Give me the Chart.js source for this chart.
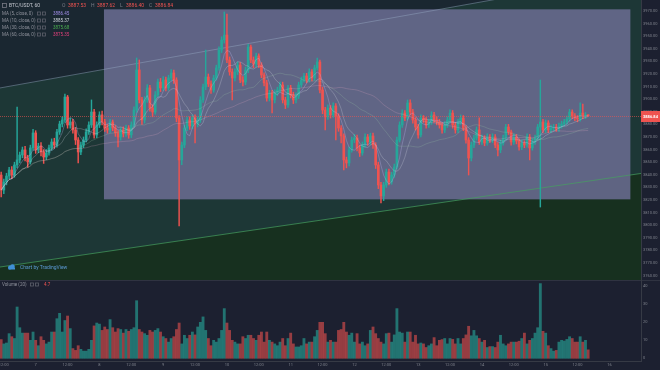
<!DOCTYPE html>
<html>
<head>
<meta charset="utf-8">
<script src="https://cdn.jsdelivr.net/npm/chart.js@4.4.1/dist/chart.umd.min.js"></script>
<style>
  html, body { margin: 0; padding: 0; background: #1c2030; width: 660px; height: 370px; overflow: hidden; }
  #main { position: absolute; left: 0; top: 0; }
  #vol { position: absolute; left: 0; top: 280px; }
</style>
</head>
<body>
<canvas id="main" width="660" height="280"></canvas>
<canvas id="vol" width="660" height="90"></canvas>
<script>
// BTC/USDT hourly candles. Hours are counted from day 7, 00:00.
const firstHour = -13;
const firstOpen = 3839.8;

const closes = [
  3827.9, 3834.3, 3839.0, 3843.8, 3839.8, 3847.8, 3851.8, 3855.7, 3859.7, 3853.3,
  3850.2, 3861.3, 3873.2, 3859.7, 3862.8, 3858.1, 3854.1, 3857.3, 3861.3, 3866.0,
  3863.6, 3874.0, 3880.3, 3883.5, 3901.7, 3879.5, 3881.9, 3875.6, 3867.6, 3858.1,
  3863.6, 3867.6, 3874.0, 3879.5, 3889.8, 3871.6, 3879.5, 3887.5, 3881.9, 3877.1,
  3875.6, 3881.9, 3877.1, 3873.2, 3870.0, 3875.6, 3872.4, 3877.1, 3871.6, 3879.5,
  3891.4, 3923.2, 3899.4, 3883.5, 3899.4, 3908.9, 3893.0, 3889.8, 3903.3, 3913.6,
  3908.9, 3915.2, 3908.9, 3916.8, 3920.8, 3915.2, 3885.1, 3851.8, 3863.6, 3877.1,
  3883.5, 3878.7, 3885.1, 3880.3, 3883.5, 3899.4, 3909.7, 3917.6, 3912.1, 3907.3,
  3916.8, 3924.8, 3939.0, 3947.0, 3950.9, 3931.1, 3921.6, 3916.8, 3921.6, 3927.1,
  3915.2, 3913.6, 3923.2, 3941.4, 3931.1, 3927.9, 3934.3, 3927.1, 3919.2, 3912.9,
  3900.9, 3904.9, 3899.4, 3904.9, 3907.3, 3911.3, 3899.4, 3895.4, 3908.9, 3903.3,
  3899.4, 3902.5, 3911.3, 3915.2, 3918.4, 3915.2, 3921.6, 3916.8, 3924.8, 3929.5,
  3907.3, 3891.4, 3885.9, 3893.0, 3887.5, 3894.6, 3886.7, 3877.1, 3870.8, 3851.8,
  3849.4, 3859.7, 3867.6, 3869.2, 3861.3, 3857.3, 3863.6, 3870.0, 3866.0, 3870.8,
  3863.6, 3847.8, 3831.9, 3823.2, 3831.9, 3842.2, 3834.3, 3839.8, 3846.2, 3867.6,
  3879.5, 3889.0, 3885.1, 3897.0, 3889.8, 3883.5, 3877.9, 3871.6, 3885.1, 3883.5,
  3879.5, 3881.9, 3887.5, 3883.5, 3881.9, 3879.5, 3875.6, 3879.5, 3883.5, 3889.0,
  3879.5, 3875.6, 3881.9, 3885.1, 3877.1, 3867.6, 3853.3, 3863.6, 3869.2, 3875.6,
  3866.0, 3869.2, 3865.2, 3870.0, 3867.6, 3870.0, 3863.6, 3859.7, 3865.2, 3869.2,
  3877.9, 3874.0, 3866.0, 3870.0, 3866.8, 3862.1, 3865.2, 3863.6, 3870.0, 3861.3,
  3866.0, 3869.2, 3877.9, 3881.9, 3875.6, 3881.1, 3875.6, 3877.1, 3877.9, 3876.3,
  3878.7, 3880.3, 3881.9, 3884.3, 3889.8, 3886.7, 3885.1, 3884.3, 3889.0, 3886.7,
  3887.53, 3886.84
];

const highs = [
  3842.2, 3836.5, 3841.2, 3846.0, 3846.5, 3850.0, 3893.8, 3858.0, 3862.0, 3862.5,
  3855.5, 3863.5, 3876.0, 3875.0, 3865.0, 3865.5, 3860.0, 3860.0, 3863.5, 3868.5,
  3869.0, 3876.0, 3882.5, 3886.0, 3904.1, 3903.0, 3885.0, 3884.0, 3877.5, 3869.5,
  3866.0, 3870.0, 3876.5, 3882.0, 3899.4, 3892.0, 3882.0, 3890.0, 3890.5, 3884.0,
  3880.0, 3884.0, 3883.5, 3879.0, 3875.0, 3877.5, 3878.0, 3879.5, 3879.0, 3882.0,
  3894.0, 3932.7, 3931.1, 3901.5, 3902.0, 3911.5, 3911.0, 3895.5, 3906.0, 3916.0,
  3916.5, 3918.0, 3917.5, 3919.0, 3923.5, 3923.0, 3917.0, 3887.0, 3866.0, 3879.5,
  3886.0, 3886.0, 3887.5, 3887.5, 3886.0, 3902.0, 3912.0, 3939.0, 3920.0, 3914.5,
  3919.0, 3927.0, 3941.5, 3949.5, 3969.2, 3967.6, 3933.5, 3924.0, 3924.0, 3929.5,
  3929.0, 3918.0, 3925.5, 3943.5, 3943.0, 3933.5, 3936.5, 3936.0, 3929.0, 3921.0,
  3915.0, 3907.0, 3907.0, 3907.5, 3909.5, 3913.5, 3913.5, 3901.5, 3911.0, 3911.0,
  3905.5, 3905.0, 3913.5, 3917.5, 3920.5, 3920.5, 3924.0, 3923.5, 3927.0, 3932.7,
  3931.1, 3909.5, 3893.5, 3895.5, 3895.0, 3897.0, 3896.5, 3888.5, 3879.0, 3872.5,
  3854.0, 3862.0, 3870.0, 3872.0, 3871.5, 3863.5, 3866.0, 3872.5, 3872.0, 3873.0,
  3873.0, 3865.5, 3850.0, 3834.0, 3834.0, 3844.5, 3844.5, 3842.0, 3848.5, 3870.0,
  3882.0, 3891.5, 3891.0, 3899.4, 3899.4, 3892.0, 3885.5, 3880.0, 3887.5, 3887.0,
  3885.5, 3884.0, 3890.0, 3889.5, 3886.0, 3884.0, 3881.5, 3882.0, 3886.0, 3891.5,
  3891.0, 3881.5, 3884.0, 3887.5, 3887.0, 3879.0, 3869.5, 3866.0, 3871.5, 3878.0,
  3885.1, 3871.5, 3871.0, 3872.5, 3872.0, 3872.5, 3872.0, 3865.5, 3867.5, 3871.5,
  3880.0, 3880.0, 3875.5, 3872.5, 3872.0, 3868.5, 3867.5, 3867.0, 3872.5, 3872.0,
  3868.5, 3871.5, 3880.0, 3915.2, 3884.0, 3883.5, 3883.0, 3879.5, 3880.0, 3880.0,
  3881.0, 3882.5, 3884.0, 3886.5, 3892.0, 3891.5, 3888.5, 3887.0, 3897.0, 3896.2,
  3889.5, 3887.62
];

const lows = [
  3822.4, 3825.0, 3832.0, 3836.8, 3837.0, 3838.0, 3845.5, 3849.5, 3853.5, 3851.0,
  3846.0, 3848.5, 3859.5, 3857.0, 3857.5, 3855.0, 3849.0, 3852.0, 3855.5, 3859.5,
  3861.0, 3862.0, 3872.0, 3878.0, 3881.5, 3877.0, 3877.0, 3873.0, 3864.0, 3849.4,
  3856.0, 3861.5, 3866.0, 3872.0, 3877.5, 3869.0, 3869.5, 3877.5, 3879.5, 3874.5,
  3873.0, 3873.5, 3875.0, 3870.5, 3862.1, 3867.5, 3870.0, 3870.5, 3869.0, 3869.5,
  3878.0, 3889.5, 3897.0, 3880.0, 3881.0, 3897.5, 3890.5, 3886.0, 3888.0, 3901.5,
  3906.0, 3907.0, 3906.5, 3907.0, 3914.5, 3912.5, 3882.0, 3799.4, 3848.0, 3861.5,
  3875.0, 3876.0, 3876.5, 3865.2, 3878.0, 3881.5, 3897.5, 3907.5, 3910.0, 3904.5,
  3905.5, 3915.0, 3923.0, 3937.0, 3944.5, 3929.0, 3919.0, 3899.4, 3914.5, 3919.5,
  3913.0, 3910.5, 3911.5, 3921.0, 3929.0, 3925.0, 3925.5, 3925.0, 3917.0, 3910.5,
  3898.5, 3898.5, 3889.0, 3897.0, 3903.0, 3905.5, 3897.0, 3892.5, 3893.5, 3901.0,
  3896.5, 3897.0, 3900.5, 3909.5, 3913.5, 3913.0, 3913.5, 3914.5, 3915.0, 3923.0,
  3905.0, 3888.5, 3875.6, 3884.0, 3885.0, 3885.5, 3867.6, 3874.5, 3865.2, 3843.8,
  3845.5, 3847.0, 3858.0, 3865.5, 3859.0, 3854.5, 3855.5, 3862.0, 3863.5, 3864.0,
  3861.0, 3845.0, 3829.0, 3817.6, 3819.5, 3830.0, 3832.0, 3832.5, 3838.0, 3844.5,
  3866.0, 3877.5, 3883.0, 3883.5, 3887.5, 3881.0, 3875.5, 3869.0, 3870.0, 3881.5,
  3877.0, 3877.5, 3880.0, 3881.5, 3879.5, 3877.0, 3873.0, 3873.5, 3877.5, 3881.5,
  3877.0, 3873.0, 3873.5, 3880.0, 3875.0, 3865.0, 3839.8, 3851.0, 3861.5, 3867.5,
  3864.0, 3864.0, 3863.0, 3863.5, 3865.5, 3865.5, 3861.5, 3855.0, 3857.5, 3863.5,
  3867.5, 3872.0, 3863.5, 3864.0, 3864.5, 3859.5, 3860.0, 3861.5, 3862.0, 3851.8,
  3859.5, 3864.0, 3867.5, 3814.4, 3873.5, 3873.5, 3873.5, 3873.5, 3875.0, 3874.5,
  3874.5, 3877.0, 3878.5, 3880.0, 3882.5, 3884.5, 3883.0, 3882.0, 3882.5, 3884.5,
  3884.5, 3886.40
];

const volumes = [
  10.4, 8, 8.5, 13.7, 12, 11, 28.5, 17, 14, 14,
  14, 10, 14.6, 10, 7, 12, 10, 8, 9, 14.6,
  14.6, 22, 25, 14.6, 21, 23.5, 16.5, 5.4, 4.4, 7,
  5, 4, 4, 5, 10, 18, 19.6, 19, 15.5, 17.4,
  16, 21.5, 17, 14.6, 16.5, 16, 14, 16, 15, 16,
  17, 32, 16, 14.6, 13.7, 12.8, 15.5, 14.6, 15.5, 16.5,
  14.6, 12, 11, 9, 11, 12, 16, 19.6, 8, 12.8,
  11, 12.8, 14.6, 13, 17.4, 20, 23, 15.5, 11, 7,
  10, 9, 11, 15.5, 27.6, 19.6, 15.5, 10, 9, 8,
  8, 12, 11, 12.8, 12.8, 11, 10, 12.8, 14.6, 9,
  14.6, 10, 9, 8, 7, 9, 11, 7, 11, 14,
  8, 6.3, 6.3, 7, 11, 8, 9, 9, 12, 15.5,
  20, 20, 13.7, 9, 10, 9, 9, 15.5, 16, 20,
  14.6, 12.8, 14, 9, 13.7, 8, 9, 7, 8, 15.5,
  17.4, 13.7, 11, 9, 8, 13.7, 14, 9, 13, 27.6,
  14.6, 14, 9, 14.6, 14.6, 9, 12.8, 8, 8.5, 8,
  6, 7, 8, 11.5, 7, 10, 10.4, 11, 8, 11,
  10.5, 8, 11, 8, 11, 13, 17.8, 12.5, 15.5, 12.5,
  11, 9, 10, 6, 6.5, 6.5, 6, 9, 12.8, 8,
  7, 8, 9, 9, 9, 9.5, 11, 14, 8, 10,
  11, 14, 17, 41.5, 15, 14, 7, 5.4, 4, 4.4,
  9, 10, 9.6, 10.5, 12, 11, 9, 9, 12, 9,
  10, 4.7
];

// time axis: 12:00 and day starts
const dayTicks = [-12, 0, 12, 24, 36, 48, 60, 72, 84, 96, 108, 120, 132, 144, 156, 168, 180, 192, 204, 216];
const dayTickLabels = ['12:00', '7', '12:00', '8', '12:00', '9', '12:00', '10', '12:00', '11',
                       '12:00', '12', '12:00', '13', '12:00', '14', '12:00', '15', '12:00', '16'];
const priceTicks = [3760, 3770, 3780, 3790, 3800, 3810, 3820, 3830, 3840, 3850, 3860,
                    3870, 3880, 3890, 3900, 3910, 3920, 3930, 3940, 3950, 3960, 3970];
const volumeTicks = [0, 10, 20, 30, 40];

const maPeriods = [5, 10, 30, 60];
const maLegendValues = ['3886.45', '3885.37', '3875.68', '3875.35'];
const maTextColors = ['#9f8ce6', '#d1d4dc', '#4caf50', '#e0407b'];
const maLineColors = ['rgba(190,180,235,0.4)', 'rgba(225,228,238,0.3)', 'rgba(160,205,170,0.28)', 'rgba(230,170,195,0.28)'];

const symbolText = 'BTC/USDT, 60';
const ohlcText = [['O', '3887.53'], ['H', '3887.62'], ['L', '3886.40'], ['C', '3886.84']];

// drawings, in (hour, price)
const rangeBox = { h0: 25.7, h1: 223.9, p0: 3820.5, p1: 3971.3 };
const upperLine = [[-13.44, 3908.9], [171.8, 3978.7]];
const lowerLine = [[-13.44, 3766.8], [223.8, 3839.8]];

// visible window
const viewStart = -13.44, viewEnd = 227.9;
const priceMin = 3756.5, priceMax = 3978.7;

const font = 'Roboto, "Liberation Sans", Arial, sans-serif';
const upColor = '#26a69a';
const downColor = '#ef5350';

const hours = closes.map((_, i) => firstHour + i);
const opens = closes.map((c, i) => i === 0 ? firstOpen : closes[i - 1]);
const candleColors = closes.map((c, i) => c >= opens[i] ? upColor : downColor);
const volumeColors = closes.map((c, i) => c >= opens[i] ? 'rgba(38,166,154,0.62)' : 'rgba(239,83,80,0.58)');

function sma(n) {
  return closes.map((_, i) => {
    const part = closes.slice(Math.max(0, i - n + 1), i + 1);
    return part.reduce((a, b) => a + b, 0) / part.length;
  });
}

const maDatasets = maPeriods.map((n, k) => ({
  type: 'line',
  data: sma(n).map((v, i) => ({ x: hours[i], y: v })),
  borderColor: maLineColors[k],
  borderWidth: 0.8,
  pointRadius: 0,
  order: 1
}));

function lineYAt(scales, line, X) {
  const x0 = scales.x.getPixelForValue(line[0][0]), y0 = scales.y.getPixelForValue(line[0][1]);
  const x1 = scales.x.getPixelForValue(line[1][0]), y1 = scales.y.getPixelForValue(line[1][1]);
  return y0 + (y1 - y0) * (X - x0) / (x1 - x0);
}

const mainDrawings = {
  id: 'mainDrawings',
  beforeDraw(chart) {
    const { ctx, width, height } = chart;
    ctx.save();
    ctx.fillStyle = '#1c2030';
    ctx.fillRect(0, 0, width, height);
    ctx.restore();
  },
  beforeDatasetsDraw(chart) {
    const { ctx, chartArea: a, scales } = chart;
    const uL = lineYAt(scales, upperLine, a.left), uR = lineYAt(scales, upperLine, a.right);
    const lL = lineYAt(scales, lowerLine, a.left), lR = lineYAt(scales, lowerLine, a.right);
    ctx.save();
    ctx.beginPath();
    ctx.rect(a.left, a.top, a.right - a.left, a.bottom - a.top);
    ctx.clip();

    // channel background
    ctx.fillStyle = '#1d3736';
    ctx.fillRect(a.left, a.top, a.right - a.left, a.bottom - a.top);
    ctx.fillStyle = '#1a2731';
    ctx.beginPath();
    ctx.moveTo(a.left, a.top); ctx.lineTo(a.left, uL); ctx.lineTo(a.right, uR); ctx.lineTo(a.right, a.top);
    ctx.closePath(); ctx.fill();
    ctx.fillStyle = '#17301f';
    ctx.beginPath();
    ctx.moveTo(a.left, lL); ctx.lineTo(a.right, lR); ctx.lineTo(a.right, a.bottom); ctx.lineTo(a.left, a.bottom);
    ctx.closePath(); ctx.fill();

    // price range box
    const bx0 = scales.x.getPixelForValue(rangeBox.h0), bx1 = scales.x.getPixelForValue(rangeBox.h1);
    const by0 = scales.y.getPixelForValue(rangeBox.p1), by1 = scales.y.getPixelForValue(rangeBox.p0);
    ctx.fillStyle = 'rgba(107,110,147,0.86)';
    ctx.fillRect(bx0, by0, bx1 - bx0, by1 - by0);

    // channel lines
    ctx.lineWidth = 1;
    ctx.strokeStyle = 'rgba(150,168,195,0.45)';
    ctx.beginPath(); ctx.moveTo(a.left, uL); ctx.lineTo(a.right, uR); ctx.stroke();
    ctx.strokeStyle = 'rgba(70,160,95,0.7)';
    ctx.beginPath(); ctx.moveTo(a.left, lL); ctx.lineTo(a.right, lR); ctx.stroke();
    ctx.restore();
  },
  afterDatasetsDraw(chart) {
    const { ctx, chartArea: a, scales } = chart;
    const py = Math.round(scales.y.getPixelForValue(closes[closes.length - 1])) + 0.5;
    ctx.save();
    ctx.strokeStyle = 'rgba(239,83,80,0.6)';
    ctx.lineWidth = 1;
    ctx.setLineDash([1, 1]);
    ctx.beginPath(); ctx.moveTo(a.left, py); ctx.lineTo(a.right, py); ctx.stroke();
    ctx.restore();
  },
  afterDraw(chart) {
    const { ctx, chartArea: a, scales, width } = chart;
    ctx.save();
    ctx.textBaseline = 'middle';

    // last price tag on the axis
    const py = Math.round(scales.y.getPixelForValue(closes[closes.length - 1]));
    ctx.fillStyle = downColor;
    ctx.fillRect(a.right, py - 5, width - a.right, 11);
    ctx.fillStyle = '#ffffff';
    ctx.font = `bold 4px ${font}`;
    ctx.fillText(closes[closes.length - 1].toFixed(2), a.right + 2, py + 0.5);

    // header: symbol + OHLC
    ctx.strokeStyle = '#787b86';
    ctx.lineWidth = 0.8;
    ctx.strokeRect(2.5, 3.5, 4, 4);
    ctx.font = `5px ${font}`;
    ctx.fillStyle = '#c3c6ce';
    ctx.fillText(symbolText, 9, 6);
    let x = 62;
    ohlcText.forEach(([k, v]) => {
      ctx.fillStyle = '#787b86';
      ctx.fillText(k, x, 6);
      ctx.fillStyle = downColor;
      ctx.fillText(v, x + 6, 6);
      x += 29;
    });

    // MA legend
    maPeriods.forEach((n, k) => {
      const ly = 13.5 + k * 7;
      ctx.fillStyle = '#8e919b';
      ctx.font = `4.5px ${font}`;
      ctx.fillText(`MA (${n}, close, 0)`, 2, ly);
      ctx.strokeStyle = '#5d606b';
      ctx.strokeRect(37.5, ly - 1.5, 3, 3);
      ctx.strokeRect(42.5, ly - 1.5, 3, 3);
      ctx.fillStyle = maTextColors[k];
      ctx.fillText(maLegendValues[k], 53, ly);
    });

    // watermark
    ctx.fillStyle = '#3f8fd8';
    ctx.beginPath();
    ctx.arc(10, 267.5, 2, 0, Math.PI * 2);
    ctx.arc(12.5, 266.5, 2.3, 0, Math.PI * 2);
    ctx.fill();
    ctx.fillRect(8.5, 267.5, 6.5, 2);
    ctx.fillStyle = '#5c9ad6';
    ctx.font = `5px ${font}`;
    ctx.fillText('Chart by TradingView', 20, 267.5);
    ctx.restore();
  }
};

new Chart(document.getElementById('main'), {
  type: 'bar',
  data: {
    datasets: [
      ...maDatasets,
      {
        data: hours.map((h, i) => ({ x: h, y: [opens[i], closes[i]] })),
        backgroundColor: candleColors,
        barThickness: 2,
        minBarLength: 1,
        grouped: false,
        borderWidth: 0,
        order: 2
      },
      {
        data: hours.map((h, i) => ({ x: h, y: [lows[i], highs[i]] })),
        backgroundColor: candleColors,
        barThickness: 0.8,
        grouped: false,
        borderWidth: 0,
        order: 3
      }
    ]
  },
  options: {
    responsive: false,
    animation: false,
    devicePixelRatio: 1,
    layout: { padding: 0 },
    plugins: { legend: { display: false }, tooltip: { enabled: false } },
    scales: {
      x: { type: 'linear', min: viewStart, max: viewEnd, offset: false, display: false },
      y: {
        position: 'right',
        min: priceMin,
        max: priceMax,
        grid: { display: false, drawTicks: false },
        border: { color: '#363a45' },
        ticks: {
          font: { size: 4, family: font },
          color: '#7d808a',
          padding: 2,
          callback: v => v.toFixed(2)
        },
        afterBuildTicks: s => { s.ticks = priceTicks.map(v => ({ value: v })); },
        afterFit: s => { s.width = 19; s.paddingTop = 0; s.paddingBottom = 0; }
      }
    }
  },
  plugins: [mainDrawings]
});

const volumeDrawings = {
  id: 'volumeDrawings',
  beforeDraw(chart) {
    const { ctx, width, height } = chart;
    ctx.save();
    ctx.fillStyle = '#1c2030';
    ctx.fillRect(0, 0, width, height);
    ctx.strokeStyle = '#2f3341';
    ctx.lineWidth = 1;
    ctx.beginPath(); ctx.moveTo(0, 0.5); ctx.lineTo(width, 0.5); ctx.stroke();
    ctx.restore();
  },
  afterDraw(chart) {
    const { ctx } = chart;
    ctx.save();
    ctx.textBaseline = 'middle';
    ctx.font = `4.5px ${font}`;
    ctx.fillStyle = '#8e919b';
    ctx.fillText('Volume (20)', 2, 4.5);
    ctx.strokeStyle = '#5d606b';
    ctx.lineWidth = 0.8;
    ctx.strokeRect(30.5, 3, 3, 3);
    ctx.strokeRect(35.5, 3, 3, 3);
    ctx.fillStyle = downColor;
    ctx.fillText(volumes[volumes.length - 1].toFixed(1), 44, 4.5);
    ctx.restore();
  }
};

new Chart(document.getElementById('vol'), {
  type: 'bar',
  data: {
    datasets: [{
      data: hours.map((h, i) => ({ x: h, y: volumes[i] })),
      backgroundColor: volumeColors,
      barThickness: 2.2,
      borderWidth: 0
    }]
  },
  options: {
    responsive: false,
    animation: false,
    devicePixelRatio: 1,
    layout: { padding: 0 },
    plugins: { legend: { display: false }, tooltip: { enabled: false } },
    scales: {
      x: {
        type: 'linear',
        min: viewStart,
        max: viewEnd,
        offset: false,
        grid: { display: false, drawTicks: false },
        border: { color: '#363a45' },
        ticks: {
          font: { size: 4, family: font },
          color: '#7d808a',
          padding: 1.5,
          autoSkip: false,
          maxRotation: 0,
          minRotation: 0,
          callback: (v, i) => dayTickLabels[i]
        },
        afterBuildTicks: s => { s.ticks = dayTicks.map(v => ({ value: v })); },
        afterFit: s => { s.height = 9; s.paddingLeft = 0; s.paddingRight = 0; }
      },
      y: {
        position: 'right',
        min: -1.5,
        max: 43.5,
        grid: { display: false, drawTicks: false },
        border: { color: '#363a45' },
        ticks: {
          font: { size: 4, family: font },
          color: '#7d808a',
          padding: 2
        },
        afterBuildTicks: s => { s.ticks = volumeTicks.map(v => ({ value: v })); },
        afterFit: s => { s.width = 19; s.paddingTop = 0; s.paddingBottom = 0; }
      }
    }
  },
  plugins: [volumeDrawings]
});
</script>
</body>
</html>
